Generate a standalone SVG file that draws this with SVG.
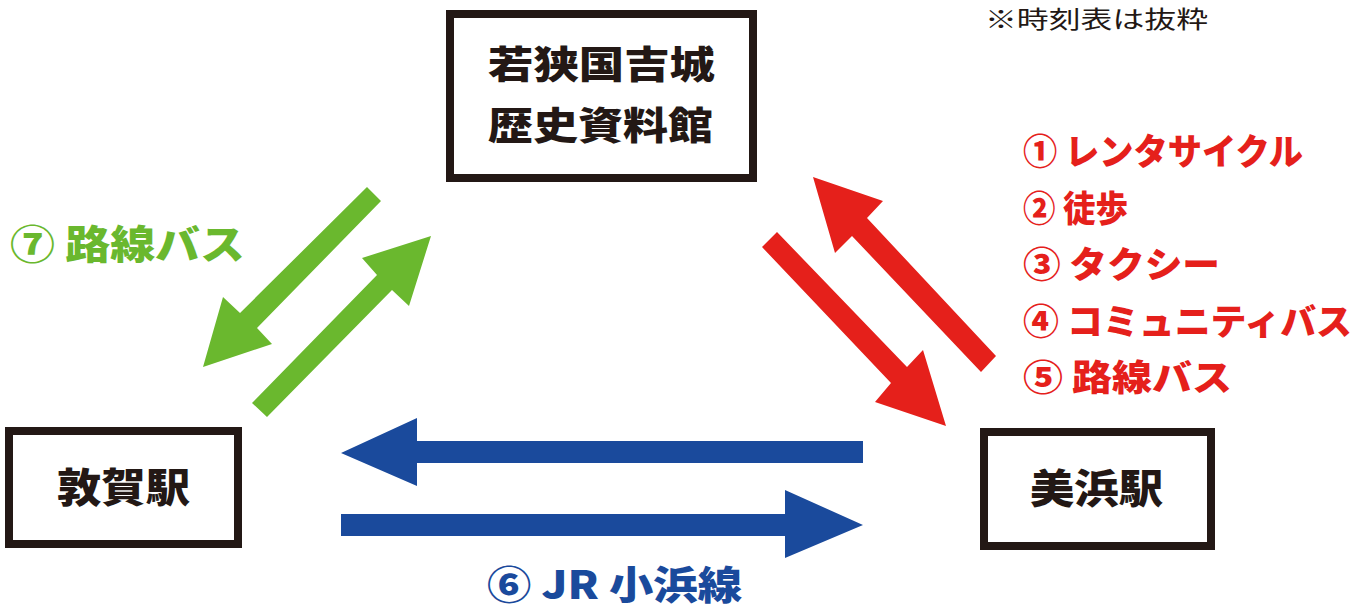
<svg xmlns="http://www.w3.org/2000/svg" width="1368" height="610" viewBox="0 0 1368 610">
<style>
.box{fill:#fff;stroke:#231815;stroke-width:8}
.jp{font-family:"Noto Sans CJK JP","Noto Sans",sans-serif;font-weight:900}
.lbl{fill:#231815}
.red{fill:#e5201b}
.green{fill:#6ab82e}
.blue{fill:#1a4a9c}
</style>
<rect width="1368" height="610" fill="#fff"/>
<text x="985" y="28" class="jp" style="font-weight:400" font-size="24" fill="#231815" textLength="223" lengthAdjust="spacingAndGlyphs">※時刻表は抜粋</text>
<g id="node-museum">
<rect class="box" x="450" y="14" width="303" height="164"/>
<text class="jp lbl" x="488" y="78" font-size="38" textLength="227" lengthAdjust="spacingAndGlyphs">若狭国吉城</text>
<text class="jp lbl" x="488" y="139" font-size="38" textLength="225" lengthAdjust="spacingAndGlyphs">歴史資料館</text>
</g>
<g id="node-tsuruga">
<rect class="box" x="9" y="431" width="229" height="113"/>
<text class="jp lbl" x="57" y="502" font-size="40" textLength="133" lengthAdjust="spacingAndGlyphs">敦賀駅</text>
</g>
<g id="node-mihama">
<rect class="box" x="984" y="432" width="227" height="114"/>
<text class="jp lbl" x="1030" y="503" font-size="40" textLength="133" lengthAdjust="spacingAndGlyphs">美浜駅</text>
</g>
<g id="connectors">
<polygon class="green" points="367,187 240,313 223,297 203,367 272,344 257,328 381,201"/>
<polygon class="green" points="252,403 377,275 362,258 431,236 409,306 392,290 267,417"/>
<polygon class="red" points="996,356 867,218 883,201 813,177 835,253 852,236 981,372"/>
<polygon class="red" points="777,232 907,367 923,350 946,426 875,402 891,383 762,247"/>
<polygon class="blue" points="863,441 417,441 417,418 341,453 417,486 417,463 863,463"/>
<polygon class="blue" points="341,514 785,514 785,490 863,525 785,558 785,536 341,536"/>
</g>
<g id="labels">
<text class="jp green" x="10" y="259" font-size="40" textLength="235" lengthAdjust="spacingAndGlyphs">⑦ 路線バス</text>
<text class="jp red" x="1023" y="165" font-size="36" textLength="280" lengthAdjust="spacingAndGlyphs">① レンタサイクル</text>
<text class="jp red" x="1023" y="221.5" font-size="36" textLength="105" lengthAdjust="spacingAndGlyphs">② 徒歩</text>
<text class="jp red" x="1023" y="278" font-size="36" textLength="197" lengthAdjust="spacingAndGlyphs">③ タクシー</text>
<text class="jp red" x="1023" y="334.5" font-size="36" textLength="329" lengthAdjust="spacingAndGlyphs">④ コミュニティバス</text>
<text class="jp red" x="1023" y="391" font-size="36" textLength="209" lengthAdjust="spacingAndGlyphs">⑤ 路線バス</text>
<text class="jp blue" x="487" y="599" font-size="39" textLength="255" lengthAdjust="spacingAndGlyphs">⑥ JR 小浜線</text>
</g>
</svg>
